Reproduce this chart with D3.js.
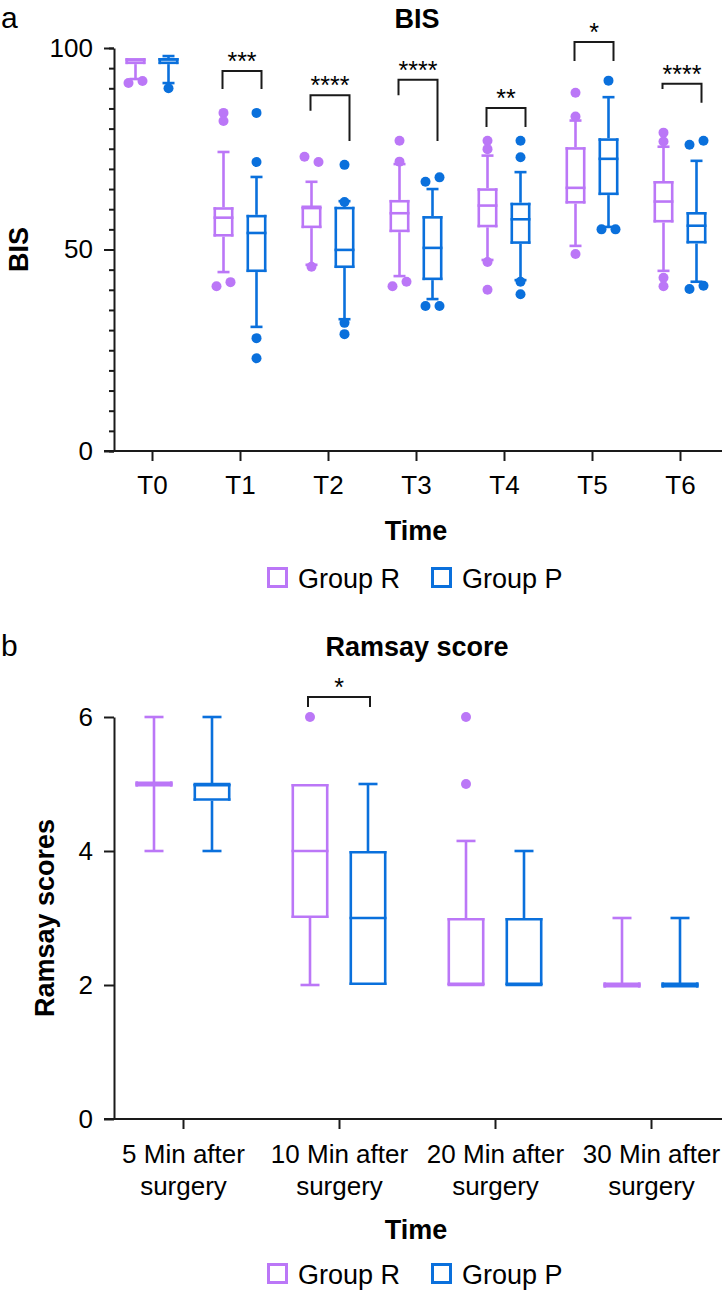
<!DOCTYPE html>
<html>
<head>
<meta charset="utf-8">
<script src="https://cdn.jsdelivr.net/npm/d3@7"></script>
<style>
  html, body { margin: 0; padding: 0; background: #fff; }
  svg { display: block; font-family: "Liberation Sans", Arial, Helvetica, sans-serif; }
</style>
</head>
<body>
<svg id="chart" width="724" height="1293"></svg>
<script>
// ---------------- DATA ----------------
const groups = ["Group R", "Group P"];

// Panel a: BIS
const bisTimes = ["T0", "T1", "T2", "T3", "T4", "T5", "T6"];
// [whiskerLow, q1, median, q3, whiskerHigh]
const bisR = [
  [92.3, 96.0, 97.0, 97.5, 97.5],
  [44.4, 53.2, 57.9, 60.5, 74.2],
  [46.2, 55.3, 60.6, 60.6, 66.8],
  [43.4, 54.3, 59.0, 62.3, 71.2],
  [47.4, 55.5, 60.9, 65.2, 73.3],
  [50.9, 61.4, 65.3, 75.4, 82.0],
  [44.7, 56.7, 61.9, 67.0, 75.5]
];
const bisP = [
  [91.3, 96.0, 97.2, 97.5, 98.0],
  [30.8, 44.4, 54.1, 58.6, 68.0],
  [32.7, 45.4, 49.9, 60.6, 62.0],
  [37.7, 42.4, 50.4, 58.3, 65.0],
  [42.4, 51.4, 57.5, 61.6, 69.2],
  [55.6, 63.5, 72.5, 77.6, 87.8],
  [42.0, 51.5, 55.9, 59.3, 72.0]
];
const bisOutR = [
  [91.3, 91.8],
  [83.9, 81.9, 40.9, 41.9],
  [73.0, 71.7, 45.7],
  [77.0, 71.8, 40.9, 42.0],
  [77.0, 74.9, 46.9, 40.0],
  [88.9, 83.0, 48.9],
  [79.0, 76.8, 43.0, 40.9]
];
const bisOutP = [
  [90.0],
  [83.9, 71.7, 28.0, 23.0],
  [61.8, 71.0, 31.8, 29.0],
  [66.8, 67.9, 36.0, 36.0],
  [77.0, 72.9, 42.0, 38.9],
  [91.9, 55.0, 55.0],
  [76.0, 77.0, 40.2, 41.0]
];
// significance: time, label, bracket top, left leg end, right leg end (BIS units)
const bisSig = [
  ["T1", "***",  94.3, 89.8, 89.8],
  ["T2", "****", 88.3, 84.4, 76.9],
  ["T3", "****", 92.1, 88.3, 76.9],
  ["T4", "**",   85.1, 80.4, 80.4],
  ["T5", "*",   101.5, 96.8, 96.8],
  ["T6", "****", 91.1, 89.8, 86.4]
];
const bisMajorTicks = [0, 50, 100];
const bisMinorTicks = d3.range(0, 101, 5);

// Panel b: Ramsay
const ramTimes = ["5 Min after surgery", "10 Min after surgery", "20 Min after surgery", "30 Min after surgery"];
const ramR = [
  [4, 5, 5, 5, 6],
  [2, 3, 4, 5, 5],
  [2, 2, 2, 3, 4.15],
  [2, 2, 2, 2, 3]
];
const ramP = [
  [4, 4.75, 5, 5, 6],
  [2, 2, 3, 4, 5],
  [2, 2, 2, 3, 4],
  [2, 2, 2, 2, 3]
];
const ramOutR = [[], [6], [6, 5], []];
const ramOutP = [[], [], [], []];
const ramSig = [
  ["10 Min after surgery", "*", 6.3, 6.15, 6.15]
];
const ramTicks = [0, 2, 4, 6];

// ---------------- STYLE ----------------
const colR = "#bb77f7";
const colP = "#0a70dc";
const axisCol = "#1a1a1a";
const FS = 26;
const FONT = "Liberation Sans, Arial, sans-serif";

const svg = d3.select("#chart");

function drawPanel(cfg) {
  const g = svg.append("g");
  const x = d3.scalePoint().domain(cfg.cats).range(cfg.xRange);
  const y = d3.scaleLinear().domain(cfg.yDomain).range(cfg.yRange);

  // minor ticks
  if (cfg.minor) {
    g.append("g").attr("transform", `translate(${cfg.axisX},0)`)
      .call(d3.axisLeft(y).tickValues(cfg.minor).tickSize(5).tickFormat(""))
      .call(a => a.select(".domain").remove())
      .call(a => a.selectAll("line").attr("stroke", axisCol).attr("stroke-width", 2));
  }
  // y axis
  g.append("g").attr("transform", `translate(${cfg.axisX},0)`)
    .call(d3.axisLeft(y).tickValues(cfg.major).tickFormat(d3.format("d"))
      .tickSize(10).tickSizeOuter(0).tickPadding(11))
    .call(a => a.select(".domain").attr("stroke", axisCol).attr("stroke-width", 2))
    .call(a => a.selectAll("line").attr("stroke", axisCol).attr("stroke-width", 2))
    .call(a => a.selectAll("text").attr("font-size", FS).attr("fill", "#000").attr("font-family", FONT));

  // x axis
  const xg = g.append("g").attr("transform", `translate(0,${cfg.yRange[0]})`)
    .call(d3.axisBottom(x).tickSize(10).tickSizeOuter(0).tickPadding(cfg.xPad))
    .call(a => a.select(".domain").remove())
    .call(a => a.selectAll("line").attr("stroke", axisCol).attr("stroke-width", 2));
  xg.append("line").attr("x1", cfg.axisX - 10).attr("x2", 722)
    .attr("y1", 0).attr("y2", 0).attr("stroke", axisCol).attr("stroke-width", 2);
  xg.selectAll(".tick text").each(function(d) {
    const t = d3.select(this);
    t.attr("font-size", FS).attr("fill", "#000").attr("font-family", FONT);
    if (cfg.wrap) {
      const words = d.split(" ");
      const l1 = words.slice(0, 3).join(" "), l2 = words.slice(3).join(" ");
      t.text(null);
      t.append("tspan").attr("x", 0).attr("dy", "0.71em").text(l1);
      t.append("tspan").attr("x", 0).attr("dy", "1.23em").text(l2);
      t.attr("dy", null);
    }
  });

  // boxes
  const sw = 2.6;
  const series = [
    { stats: cfg.R, outs: cfg.outR, col: colR, off: -cfg.offset },
    { stats: cfg.P, outs: cfg.outP, col: colP, off: cfg.offset }
  ];
  series.forEach(s => {
    s.stats.forEach((st, i) => {
      const cx = x(cfg.cats[i]) + s.off;
      const [wl, q1, med, q3, wh] = st;
      const bg = g.append("g").attr("stroke", s.col).attr("stroke-width", sw).attr("fill", "none");
      const hw = cfg.boxW / 2, cw = cfg.capW / 2;
      // whiskers
      if (wh > q3) {
        bg.append("line").attr("x1", cx).attr("x2", cx).attr("y1", y(q3)).attr("y2", y(wh));
        bg.append("line").attr("x1", cx - cw).attr("x2", cx + cw).attr("y1", y(wh)).attr("y2", y(wh));
      }
      if (wl < q1) {
        bg.append("line").attr("x1", cx).attr("x2", cx).attr("y1", y(q1)).attr("y2", y(wl));
        bg.append("line").attr("x1", cx - cw).attr("x2", cx + cw).attr("y1", y(wl)).attr("y2", y(wl));
      }
      // box edges drawn inside the box outline
      const yt = y(q3), yb = y(q1);
      bg.append("line").attr("x1", cx - hw).attr("x2", cx + hw).attr("y1", yt + sw / 2).attr("y2", yt + sw / 2);
      bg.append("line").attr("x1", cx - hw).attr("x2", cx + hw).attr("y1", yb - sw / 2).attr("y2", yb - sw / 2);
      const top = Math.min(yt, yb - sw), bot = Math.max(yb, yt + sw);
      bg.append("line").attr("x1", cx - hw + sw / 2).attr("x2", cx - hw + sw / 2).attr("y1", top).attr("y2", bot);
      bg.append("line").attr("x1", cx + hw - sw / 2).attr("x2", cx + hw - sw / 2).attr("y1", top).attr("y2", bot);
      // median
      bg.append("line").attr("x1", cx - hw).attr("x2", cx + hw).attr("y1", y(med)).attr("y2", y(med));

      // outliers (spread horizontally when overlapping; earlier-listed point goes left)
      const pts = s.outs[i].map((v, k) => ({ v, k, py: y(v), dx: 0 })).sort((a, b) => a.py - b.py);
      for (let k = 0; k < pts.length - 1; k++) {
        const a = pts[k], b = pts[k + 1];
        if (Math.abs(b.py - a.py) < 7 && a.dx === 0) {
          if (a.k < b.k) { a.dx = -7; b.dx = 7; } else { a.dx = 7; b.dx = -7; }
          k++;
        }
      }
      g.selectAll(null).data(pts).enter().append("circle")
        .attr("cx", p => cx + p.dx).attr("cy", p => p.py).attr("r", 5).attr("fill", s.col);
    });
  });

  // significance brackets
  cfg.sig.forEach(([cat, lab, top, lEnd, rEnd]) => {
    const x1 = x(cat) - cfg.offset + cfg.sigL, x2 = x(cat) + cfg.offset + cfg.sigR;
    g.append("path")
      .attr("d", `M${x1},${y(lEnd)}V${y(top)}H${x2}V${y(rEnd)}`)
      .attr("fill", "none").attr("stroke", axisCol).attr("stroke-width", 2);
    g.append("text").attr("x", (x1 + x2) / 2).attr("y", y(top) - 1)
      .attr("text-anchor", "middle").attr("font-size", 25).text(lab);
  });

  // titles / labels
  g.append("text").attr("x", 417).attr("y", cfg.titleY).attr("text-anchor", "middle")
    .attr("font-size", 27).attr("font-weight", "bold").text(cfg.title);
  g.append("text").attr("x", 1).attr("y", cfg.letterY)
    .attr("font-size", 30).text(cfg.letter);
  g.append("text").attr("transform", `translate(${cfg.yLabX},${(cfg.yRange[0] + cfg.yRange[1]) / 2}) rotate(-90)`)
    .attr("text-anchor", "middle").attr("font-size", 27).attr("font-weight", "bold").text(cfg.yLabel);
  g.append("text").attr("x", 416).attr("y", cfg.timeY).attr("text-anchor", "middle")
    .attr("font-size", 27).attr("font-weight", "bold").text("Time");

  // legend
  const lg = g.append("g").attr("transform", `translate(0,${cfg.legY})`);
  const legX = [267, 431];
  groups.forEach((name, i) => {
    const c = i === 0 ? colR : colP;
    lg.append("rect").attr("x", legX[i] + 1.5).attr("y", -19.5).attr("width", 18).attr("height", 18)
      .attr("fill", "#fff").attr("stroke", c).attr("stroke-width", 3);
    lg.append("text").attr("x", legX[i] + 31).attr("y", 0).attr("font-size", 27).text(name);
  });
}

drawPanel({
  cats: bisTimes, xRange: [152, 680], yDomain: [0, 100], yRange: [451, 48],
  axisX: 114, major: bisMajorTicks, minor: bisMinorTicks, xPad: 15,
  R: bisR, P: bisP, outR: bisOutR, outP: bisOutP, offset: 16.5, boxW: 20, capW: 12,
  sig: bisSig, sigL: -1, sigR: 5,
  title: "BIS", titleY: 28, letter: "a", letterY: 28, yLabel: "BIS", yLabX: 28,
  timeY: 540, legY: 588
});

drawPanel({
  cats: ramTimes, xRange: [183, 651], yDomain: [0, 6], yRange: [1119, 717],
  axisX: 114, major: ramTicks, minor: null, xPad: 16, wrap: true,
  R: ramR, P: ramP, outR: ramOutR, outP: ramOutP, offset: 29, boxW: 37, capW: 19,
  sig: ramSig, sigL: -2, sigR: 2,
  title: "Ramsay score", titleY: 656, letter: "b", letterY: 656, yLabel: "Ramsay scores", yLabX: 54,
  timeY: 1239, legY: 1284
});
</script>
</body>
</html>
